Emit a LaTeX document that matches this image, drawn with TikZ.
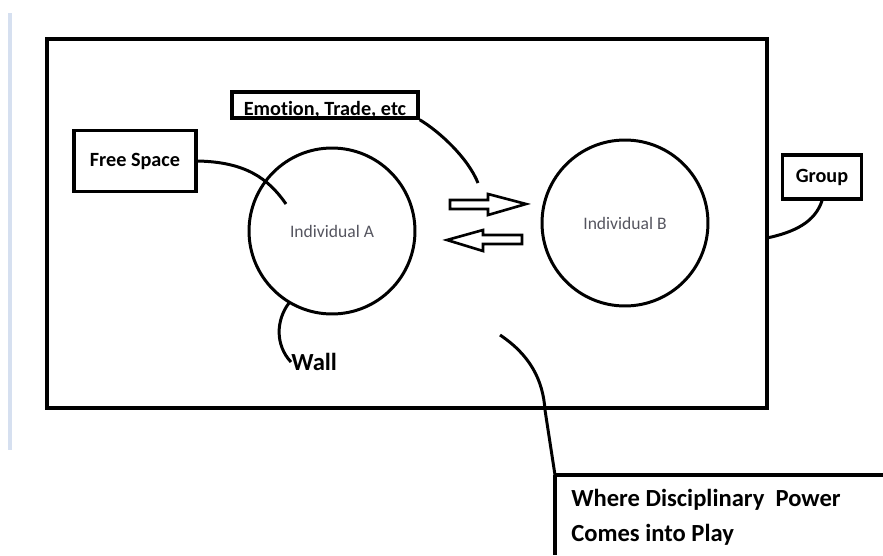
\documentclass[tikz,border=0pt]{standalone}
\usepackage{fontspec}
\setmainfont{Carlito}[Ligatures=NoCommon]
\usetikzlibrary{positioning}

\definecolor{margin}{RGB}{214,224,240}
\definecolor{labelgrey}{RGB}{85,85,95}

\tikzset{
  box/.style={draw, line width=2pt, inner sep=0pt, font=\bfseries\fontsize{11.5}{13}\selectfont},
  person/.style={draw, circle, line width=1.7pt, minimum size=3.32cm, inner sep=0pt,
    text=labelgrey, font=\fontsize{10}{12}\selectfont},
  link/.style={line width=1.7pt},
  flow/.style={line width=1.5pt, line join=miter}
}

\begin{document}
\begin{tikzpicture}[x=0.02cm,y=-0.02cm]
\useasboundingbox (0,0) rectangle (883,555);

% margin line and group frame
\draw[margin, line width=2.2pt] (10,13) -- (10,450);
\draw[line width=2.3pt] (47,39) rectangle (767,408);

% individuals
\node[person] (indA) at (332,231) {Individual A};
\node[person] (indB) at (625,223) {Individual B};

% labels
\node[box, minimum width=2.44cm, minimum height=1.22cm] (free) at (135,161) {Free Space};
\node[box, minimum width=3.72cm, text height=0.46cm, text depth=0.06cm] (emo) at (325,105) {Emotion, Trade, etc};
\node[box, minimum width=1.58cm, minimum height=0.88cm] (group) at (822,177) {Group};
\node[font=\bfseries\fontsize{14}{16}\selectfont, anchor=west, inner sep=0pt] (wall) at (291,362) {Wall};
\node[font=\bfseries\fontsize{14}{20}\selectfont, align=left, anchor=north west, inner sep=0pt] (power) at (571,489)
  {Where Disciplinary\ \ Power\\Comes into Play};

% free ends
\coordinate (freeEnd) at (286,204);
\coordinate (emoEnd) at (478,183);
\coordinate (wallTop) at (289,303);
\coordinate (groupEnd) at (767,238);
\coordinate (powerStart) at (500,335);
\coordinate (powerCorner) at (555,475);

% connectors
\draw[link] (free.east) .. controls (245,162) and (268,178) .. (freeEnd);
\draw[link] (emo.south east) .. controls (440,132) and (468,158) .. (emoEnd);
\draw[link] (wallTop) .. controls (276,320) and (275,345) .. (wall.west);
\draw[link] (group.south) .. controls (815,222) and (795,232) .. (groupEnd);
\draw[link] (powerStart) .. controls (530,355) and (543,380) .. (545,410) -- (powerCorner);

% open box of the last label
\draw[line width=2pt] (powerCorner) -- (883,475);
\draw[line width=2pt] (powerCorner) -- (555,555);

% exchange arrows
\draw[flow] (450,200) -- (488,200) -- (488,194) -- (526,204) -- (488,215) -- (488,209) -- (450,209) -- cycle;
\draw[flow] (522,235) -- (483,235) -- (483,230) -- (447,240) -- (483,251) -- (483,244) -- (522,244) -- cycle;
\end{tikzpicture}
\end{document}
